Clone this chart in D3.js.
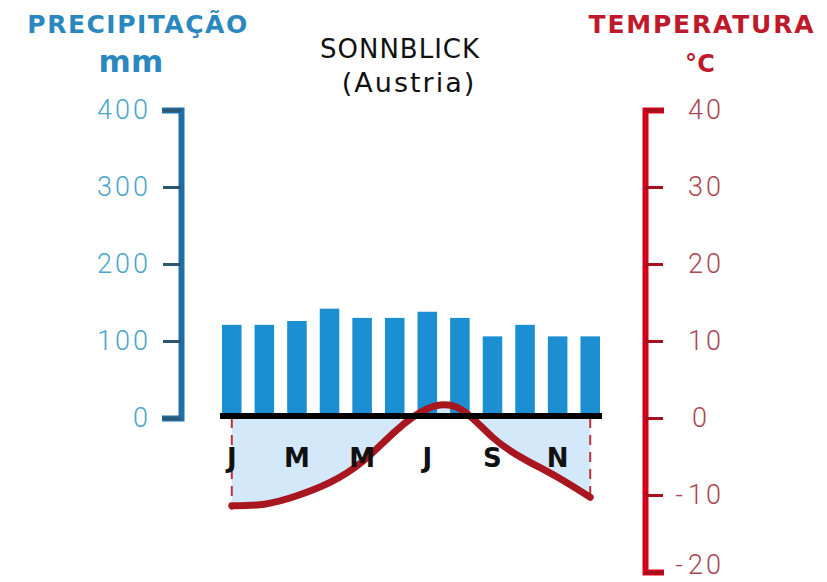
<!DOCTYPE html>
<html>
<head>
<meta charset="utf-8">
<script src="https://cdn.jsdelivr.net/npm/d3@7"></script>
<style>
  html, body { margin: 0; padding: 0; background: #fff; }
  svg { display: block; }
  text { font-family: "DejaVu Sans", Inter, sans-serif; }
</style>
</head>
<body>
<svg id="chart" width="827" height="582"></svg>
<script>
// Sonnblick (Austria) climate diagram: monthly precipitation (bars) and temperature (line)
const months = ["J", "F", "M", "A", "M", "J", "J", "A", "S", "O", "N", "D"];
const precipitation = [121, 121, 126, 142, 130, 130, 138, 130, 106, 121, 106, 106]; // mm
const temperature = [-11.4, -11.2, -10.1, -8.4, -5.7, -1.8, 1.2, 1.2, -2.5, -5.4, -7.7, -10.3]; // °C
const precipTicks = [0, 100, 200, 300, 400];
const tempTicks = [-20, -10, 0, 10, 20, 30, 40];

const svg = d3.select("#chart");

const x = d3.scaleBand().domain(d3.range(months.length)).range([222, 600])
  .paddingInner(0.4).paddingOuter(0);
const yP = d3.scaleLinear().domain([0, 400]).range([418, 110]);
const yT = d3.scaleLinear().domain([-20, 40]).range([572, 110]);
const cx = i => x(i) + x.bandwidth() / 2;

// headings
const heading = (tx, ty, size, ls, color, label) =>
  svg.append("text").attr("x", tx).attr("y", ty).attr("text-anchor", "middle")
    .attr("font-size", size).attr("font-weight", 700).attr("fill", color)
    .attr("letter-spacing", ls).text(label);
heading(138, 33, 25, 1.5, "#2a88bf", "PRECIPITAÇÃO");
heading(131, 72, 31, 0.3, "#2a88bf", "mm");
heading(702, 33, 25, 1.8, "#bf1a2c", "TEMPERATURA");
heading(700, 72, 24, 0.3, "#bf1a2c", "°C");

svg.append("text").attr("x", 400).attr("y", 58).attr("text-anchor", "middle")
  .attr("font-size", 26).attr("font-weight", 400).attr("fill", "#111")
  .attr("letter-spacing", 1).text("SONNBLICK");
svg.append("text").attr("x", 409).attr("y", 92).attr("text-anchor", "middle")
  .attr("font-size", 27).attr("font-weight", 400).attr("fill", "#111")
  .attr("letter-spacing", 2).text("(Austria)");

// cold-season area between zero line and temperature curve
const curve = d3.curveNatural;
const area = d3.area().curve(curve)
  .x((d, i) => cx(i)).y0(yT(0)).y1(d => yT(d));
svg.append("path").datum(temperature).attr("d", area).attr("fill", "#d3e8f8");

// dashed edges of the shaded area
[0, months.length - 1].forEach(i => {
  svg.append("line").attr("x1", cx(i)).attr("x2", cx(i))
    .attr("y1", yT(0)).attr("y2", yT(temperature[i]) + 4)
    .attr("stroke", "#b8323f").attr("stroke-width", 2)
    .attr("stroke-dasharray", "10,7");
});

// precipitation bars
svg.append("g").selectAll("rect").data(precipitation).join("rect")
  .attr("x", (d, i) => x(i)).attr("width", x.bandwidth())
  .attr("y", d => yP(d)).attr("height", d => yP(0) - yP(d))
  .attr("fill", "#1b8fd1");

// temperature curve
const line = d3.line().curve(curve).x((d, i) => cx(i)).y(d => yT(d));
svg.append("path").datum(temperature).attr("d", line)
  .attr("fill", "none").attr("stroke", "#a8161f").attr("stroke-width", 7)
  .attr("stroke-linecap", "round");

// zero baseline
svg.append("line").attr("x1", 220).attr("x2", 602)
  .attr("y1", yP(0) - 2).attr("y2", yP(0) - 2)
  .attr("stroke", "#000").attr("stroke-width", 6);

// month initials (every other month)
svg.append("g").selectAll("text").data(months).join("text")
  .filter((d, i) => i % 2 === 0)
  .attr("x", (d, i) => cx(i * 2)).attr("y", 467).attr("text-anchor", "middle")
  .attr("font-size", 26).attr("font-weight", 700).attr("fill", "#111")
  .text(d => d);

// axis tick labels: thin numerals
const styleTicks = sel => sel
  .style("font-family", "Roboto, 'Open Sans', Lato, sans-serif")
  .style("font-weight", 300).style("font-size", "27px")
  .attr("letter-spacing", 3);
const labelDy = d => d === -20 ? "0.06em" : "0.32em";

// left axis: precipitation
const axL = svg.append("g").attr("transform", "translate(181,0)")
  .call(d3.axisLeft(yP).tickValues(precipTicks).tickSizeInner(18).tickSizeOuter(19)
    .tickPadding(12).tickFormat(d3.format("d")));
axL.select(".domain").attr("stroke", "#1f6ea8").attr("stroke-width", 6).attr("fill", "none");
axL.selectAll(".tick line").attr("stroke", "#2d5670").attr("stroke-width", 3);
axL.selectAll(".tick text").attr("fill", "#4aa5c9").call(styleTicks);

// right axis: temperature
const axR = svg.append("g").attr("transform", "translate(645,0)")
  .call(d3.axisRight(yT).tickValues(tempTicks).tickSizeInner(18).tickSizeOuter(19)
    .tickPadding(25).tickFormat(d => Math.abs(d)));
axR.select(".domain").attr("stroke", "#d3031c").attr("stroke-width", 6).attr("fill", "none");
axR.selectAll(".tick line").attr("stroke", "#a3101e").attr("stroke-width", 3);
axR.selectAll(".tick text").attr("fill", "#ab4550").call(styleTicks)
  .attr("x", d => d === 0 ? 47 : 43)
  .attr("dy", labelDy);
axR.selectAll(".tick").filter(d => d < 0).append("text")
  .attr("x", 38).attr("dy", labelDy).attr("text-anchor", "end")
  .attr("fill", "#ab4550").call(styleTicks).attr("letter-spacing", 0).text("-");
</script>
</body>
</html>
